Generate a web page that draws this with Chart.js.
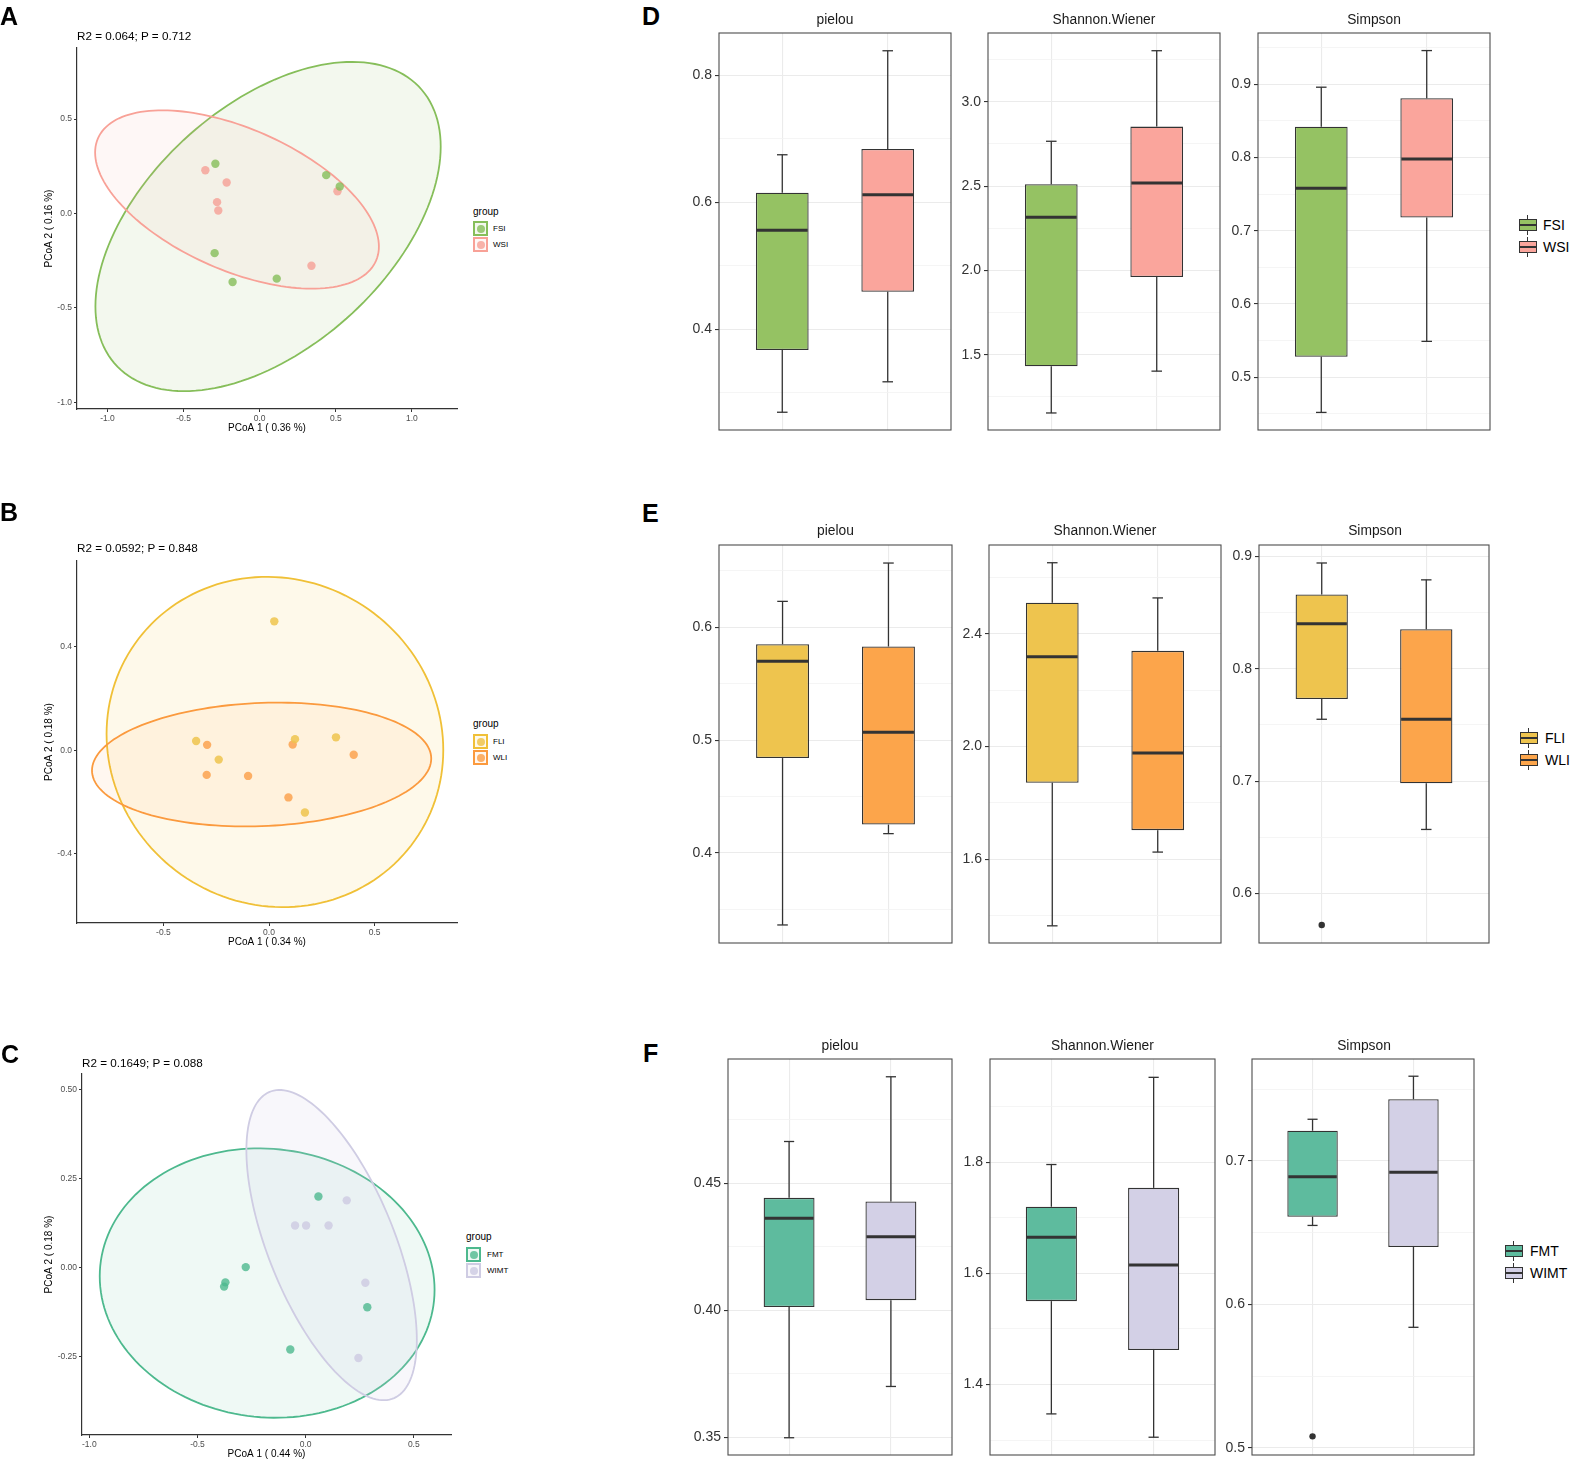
<!DOCTYPE html>
<html>
<head>
<meta charset="utf-8">
<script src="https://cdn.jsdelivr.net/npm/chart.js@4.4.0/dist/chart.umd.min.js"></script>
<style>
body { margin: 0; background: #fff; width: 1574px; height: 1463px; position: relative; overflow: hidden; font-family: "Liberation Sans", Arial, sans-serif; }
canvas { position: absolute; }
.t { position: absolute; white-space: nowrap; line-height: 1; }
.key { position: absolute; box-sizing: border-box; }
</style>
</head>
<body>
<script>
const FONT = '"Liberation Sans", Arial, sans-serif'

// ---- PCoA scatter data ----
const fsiX = [-0.291, 0.437, 0.526, -0.296, -0.178, 0.112]
const fsiY = [0.263, 0.203, 0.143, -0.210, -0.363, -0.345]
const wsiX = [-0.357, -0.217, -0.280, -0.272, 0.511, 0.340]
const wsiY = [0.229, 0.164, 0.060, 0.016, 0.118, -0.277]

const fliX = [0.025, -0.345, -0.238, 0.123, 0.317, 0.170]
const fliY = [0.498, 0.036, -0.036, 0.043, 0.050, -0.240]
const wliX = [-0.293, -0.295, -0.099, 0.112, 0.401, 0.092]
const wliY = [0.021, -0.095, -0.099, 0.022, -0.017, -0.182]

const fmtX = [0.059, -0.277, -0.371, -0.377, 0.285, -0.071]
const fmtY = [0.200, 0.001, -0.042, -0.054, -0.112, -0.231]
const wimtX = [0.190, -0.049, 0.002, 0.106, 0.276, 0.244]
const wimtY = [0.189, 0.118, 0.118, 0.118, -0.043, -0.255]

// confidence ellipses: centre x, centre y, half-axis 1 (dx, dy), half-axis 2 (dx, dy)
const fsiEllipse = [0.055, -0.069, 1.134, 0.423, 0, 0.762]
const wsiEllipse = [-0.149, 0.074, 0.932, -0.249, 0, 0.401]
const fliEllipse = [0.028, 0.032, 0.797, -0.031, 0, 0.637]
const wliEllipse = [-0.035, -0.055, 0.803, 0.023, 0, 0.238]
const fmtEllipse = [-0.178, -0.044, 0.774, -0.019, 0, 0.379]
const wimtEllipse = [0.120, 0.063, 0.394, -0.267, 0, 0.346]

// ---- alpha diversity boxes: [lower whisker, Q1, median, Q3, upper whisker] ----
const pielouD = [[0.269, 0.367, 0.556, 0.615, 0.675], [0.317, 0.459, 0.612, 0.684, 0.839]]
const shannonD = [[1.155, 1.432, 2.316, 2.511, 2.766], [1.403, 1.961, 2.518, 2.853, 3.303]]
const simpsonD = [[0.452, 0.528, 0.758, 0.842, 0.896], [0.549, 0.718, 0.798, 0.881, 0.946]]

const pielouE = [[0.336, 0.484, 0.570, 0.585, 0.623], [0.417, 0.425, 0.507, 0.583, 0.657]]
const shannonE = [[1.363, 1.871, 2.319, 2.511, 2.653], [1.625, 1.703, 1.977, 2.340, 2.528]]
const simpsonE = [[0.755, 0.773, 0.840, 0.866, 0.894], [0.657, 0.698, 0.755, 0.835, 0.879]]
const simpsonEOutliers = [0.572, null]

const pielouF = [[0.3498, 0.4013, 0.4363, 0.4443, 0.4665], [0.370, 0.404, 0.429, 0.4429, 0.492]]
const shannonF = [[1.347, 1.550, 1.665, 1.720, 1.796], [1.305, 1.462, 1.615, 1.754, 1.953]]
const simpsonF = [[0.655, 0.661, 0.689, 0.721, 0.729], [0.584, 0.640, 0.692, 0.743, 0.759]]
const simpsonFOutliers = [0.508, null]

// ---- ticks ----
const ticksAx = [-1.0, -0.5, 0.0, 0.5, 1.0], ticksAy = [-1.0, -0.5, 0.0, 0.5]
const ticksBx = [-0.5, 0.0, 0.5], ticksBy = [-0.4, 0.0, 0.4]
const ticksCx = [-1.0, -0.5, 0.0, 0.5], ticksCy = [-0.25, 0.00, 0.25, 0.50]

const pielouDTicks = [0.4, 0.6, 0.8], pielouDMinor = [0.3, 0.5, 0.7]
const shannonDTicks = [1.5, 2.0, 2.5, 3.0], shannonDMinor = [1.25, 1.75, 2.25, 2.75, 3.25]
const simpsonDTicks = [0.5, 0.6, 0.7, 0.8, 0.9], simpsonDMinor = [0.45, 0.55, 0.65, 0.75, 0.85, 0.95]
const pielouETicks = [0.4, 0.5, 0.6], pielouEMinor = [0.35, 0.45, 0.55, 0.65]
const shannonETicks = [1.6, 2.0, 2.4], shannonEMinor = [1.4, 1.8, 2.2, 2.6]
const simpsonETicks = [0.6, 0.7, 0.8, 0.9], simpsonEMinor = [0.65, 0.75, 0.85]
const pielouFTicks = [0.35, 0.40, 0.45], pielouFMinor = [0.375, 0.425, 0.475]
const shannonFTicks = [1.4, 1.6, 1.8], shannonFMinor = [1.3, 1.5, 1.7, 1.9]
const simpsonFTicks = [0.5, 0.6, 0.7], simpsonFMinor = [0.55, 0.65, 0.75]

const COLORS = {
  FSI: '#95c263', WSI: '#faa59c',
  FLI: '#eec44e', WLI: '#fca54b',
  FMT: '#5ebb9e', WIMT: '#d3d0e6'
}

function makeCanvas (left, top, width, height) {
  const c = document.createElement('canvas')
  c.width = width
  c.height = height
  c.style.left = left + 'px'
  c.style.top = top + 'px'
  c.style.width = width + 'px'
  c.style.height = height + 'px'
  document.body.appendChild(c)
  return c
}

function text (str, x, y, size, opts = {}) {
  const d = document.createElement('div')
  d.className = 't'
  d.textContent = str
  d.style.left = x + 'px'
  d.style.top = y + 'px'
  d.style.fontSize = size + 'px'
  d.style.color = opts.color || '#000'
  if (opts.bold) d.style.fontWeight = 'bold'
  d.style.transform = `translate(${opts.center ? '-50%' : '0'}, -50%)`
  document.body.appendChild(d)
}

function box (x, y, w, h, css) {
  const d = document.createElement('div')
  d.className = 'key'
  Object.assign(d.style, { left: x + 'px', top: y + 'px', width: w + 'px', height: h + 'px' }, css)
  document.body.appendChild(d)
  return d
}

const near = (list, v) => list.some(m => Math.abs(m - v) < 1e-9)

// ---------------- scatter (PCoA) ----------------
const ellipsePlugin = {
  id: 'ellipses',
  beforeDatasetsDraw (chart, args, opts) {
    const { ctx, scales: { x, y } } = chart
    opts.list.forEach(([e, stroke, fill]) => {
      ctx.save()
      ctx.beginPath()
      for (let k = 0; k <= 160; k++) {
        const t = k / 160 * 2 * Math.PI
        const px = x.getPixelForValue(e[0] + e[2] * Math.cos(t) + e[4] * Math.sin(t))
        const py = y.getPixelForValue(e[1] + e[3] * Math.cos(t) + e[5] * Math.sin(t))
        k ? ctx.lineTo(px, py) : ctx.moveTo(px, py)
      }
      ctx.closePath()
      ctx.fillStyle = fill
      ctx.fill()
      ctx.strokeStyle = stroke
      ctx.lineWidth = 1.8
      ctx.stroke()
      ctx.restore()
    })
  }
}

function pts (xs, ys) { return xs.map((x, i) => ({ x, y: ys[i] })) }

function scatterChart (area, canvasLeft, xRange, yRange, xTicks, yTicks, xDec, yDec, xTitle, yTitle, groups) {
  const [l, r, t, b] = area
  const top = t - 9, right = r + 5, bottom = b + 25
  const cv = makeCanvas(canvasLeft, top, right - canvasLeft, bottom - top)
  const tickFont = { family: FONT, size: 8.5 }
  new Chart(cv, {
    type: 'scatter',
    data: {
      datasets: groups.map(g => ({
        data: pts(g.xs, g.ys),
        backgroundColor: g.dot,
        borderWidth: 0,
        pointRadius: 4.2
      }))
    },
    options: {
      responsive: false,
      animation: false,
      layout: { padding: { top: t - top, right: right - r, left: 0, bottom: 0 } },
      plugins: {
        legend: { display: false },
        tooltip: { enabled: false },
        ellipses: { list: groups.map(g => [g.ellipse, g.stroke, g.fill]) }
      },
      scales: {
        x: {
          type: 'linear', min: xRange[0], max: xRange[1],
          afterBuildTicks: s => { s.ticks = xTicks.map(value => ({ value })) },
          afterFit: s => { s.height = bottom - b },
          ticks: { autoSkip: false, maxRotation: 0, padding: 2, color: '#4d4d4d', font: tickFont, callback: v => v.toFixed(xDec) },
          grid: { drawOnChartArea: false, tickLength: 3, tickColor: '#333', color: '#333' },
          border: { color: '#333', width: 1.2 },
          title: { display: true, text: xTitle, color: '#000', font: { family: FONT, size: 10 }, padding: { top: 0, bottom: 0 } }
        },
        y: {
          type: 'linear', min: yRange[0], max: yRange[1],
          afterBuildTicks: s => { s.ticks = yTicks.map(value => ({ value })) },
          afterFit: s => { s.width = l - canvasLeft },
          ticks: { autoSkip: false, padding: 2, color: '#4d4d4d', font: tickFont, callback: v => v.toFixed(yDec) },
          grid: { drawOnChartArea: false, tickLength: 3, tickColor: '#333', color: '#333' },
          border: { color: '#333', width: 1.2 },
          title: { display: true, text: yTitle, color: '#000', font: { family: FONT, size: 10 }, padding: { top: 13, bottom: 0 } }
        }
      }
    },
    plugins: [ellipsePlugin]
  })
}

function groupLegend (x, titleY, keyTops, size, textX, groups) {
  text('group', x, titleY, 10)
  groups.forEach((g, i) => {
    box(x, keyTops[i], size, size, { border: `2px solid ${g.stroke}`, background: g.fill })
    box(x + size / 2 - 4, keyTops[i] + size / 2 - 4, 8, 8, { borderRadius: '50%', background: g.dot })
    text(g.name, textX, keyTops[i] + size / 2, 8)
  })
}

const groupsA = [
  { name: 'FSI', xs: fsiX, ys: fsiY, ellipse: fsiEllipse, stroke: '#86be5a', fill: 'rgba(134,190,90,0.1)', dot: 'rgba(134,190,90,0.8)' },
  { name: 'WSI', xs: wsiX, ys: wsiY, ellipse: wsiEllipse, stroke: '#f8a197', fill: 'rgba(248,161,151,0.09)', dot: 'rgba(246,160,150,0.8)' }
]
const groupsB = [
  { name: 'FLI', xs: fliX, ys: fliY, ellipse: fliEllipse, stroke: '#f0c037', fill: 'rgba(241,192,51,0.1)', dot: 'rgba(238,196,78,0.85)' },
  { name: 'WLI', xs: wliX, ys: wliY, ellipse: wliEllipse, stroke: '#fb9a3e', fill: 'rgba(251,154,62,0.08)', dot: 'rgba(251,163,80,0.85)' }
]
const groupsC = [
  { name: 'FMT', xs: fmtX, ys: fmtY, ellipse: fmtEllipse, stroke: '#4db98e', fill: 'rgba(77,185,142,0.09)', dot: 'rgba(77,185,142,0.8)' },
  { name: 'WIMT', xs: wimtX, ys: wimtY, ellipse: wimtEllipse, stroke: '#cfcce3', fill: 'rgba(207,204,227,0.15)', dot: 'rgba(207,204,227,0.85)' }
]

scatterChart([77, 457, 48, 409], 30, [-1.2, 1.296], [-1.035, 0.876], ticksAx, ticksAy, 1, 1,
  'PCoA 1 ( 0.36 %)', 'PCoA 2 ( 0.16 %)', groupsA)
scatterChart([77, 457, 561, 923], 30, [-0.909, 0.890], [-0.667, 0.731], ticksBx, ticksBy, 1, 1,
  'PCoA 1 ( 0.34 %)', 'PCoA 2 ( 0.18 %)', groupsB)
scatterChart([82, 451, 1074, 1435], 30, [-1.034, 0.672], [-0.472, 0.545], ticksCx, ticksCy, 1, 2,
  'PCoA 1 ( 0.44 %)', 'PCoA 2 ( 0.18 %)', groupsC)

text('R2 = 0.064; P = 0.712', 77, 36, 11.7)
text('R2 = 0.0592; P = 0.848', 77, 548, 11.7)
text('R2 = 0.1649; P = 0.088', 82, 1063, 11.7)

groupLegend(473, 212, [221, 237], 15, 493, groupsA)
groupLegend(473, 724, [734, 750], 15, 493, groupsB)
groupLegend(466, 1237, [1247, 1263], 15, 487, groupsC)

// ---------------- box plots ----------------
const boxPlugin = {
  id: 'whiskers',
  afterDatasetsDraw (chart, args, opts) {
    const { ctx, chartArea: a, scales: { x, y } } = chart
    const seg = (x1, y1, x2, y2) => { ctx.beginPath(); ctx.moveTo(x1, y1); ctx.lineTo(x2, y2); ctx.stroke() }
    ctx.save()
    ctx.strokeStyle = '#333'
    opts.stats.forEach((s, i) => {
      const cx = x.getPixelForValue(i + 1)
      const capL = x.getPixelForValue(i + 0.95), capR = x.getPixelForValue(i + 1.05)
      const boxL = x.getPixelForValue(i + 0.75), boxR = x.getPixelForValue(i + 1.25)
      const [lo, q1, med, q3, hi] = s.map(v => y.getPixelForValue(v))
      ctx.lineWidth = 1.3
      seg(cx, q3, cx, hi)
      seg(cx, q1, cx, lo)
      seg(capL, hi, capR, hi)
      seg(capL, lo, capR, lo)
      ctx.lineWidth = 3
      seg(boxL + 1, med, boxR - 1, med)
    })
    ctx.lineWidth = 1.1
    ctx.strokeStyle = '#4d4d4d'
    ctx.strokeRect(a.left, a.top, a.width, a.height)
    ctx.restore()
  }
}

function boxChart (area, stats, fills, yRange, major, minor, dec, outliers) {
  const [l, r, t, b] = area
  const pad = 14
  const cv = makeCanvas(l - 50, t - pad, r - l + 52, b - t + 2 * pad)
  const allTicks = major.concat(minor).sort((p, q) => p - q)
  const datasets = [{
    data: stats.map((s, i) => ({ x: i + 1, y: [s[1], s[3]] })),
    backgroundColor: fills,
    borderColor: '#333',
    borderWidth: 1.3,
    borderSkipped: false,
    barPercentage: 0.5,
    categoryPercentage: 1
  }]
  if (outliers) {
    datasets.push({
      type: 'scatter',
      data: outliers.map((v, i) => ({ x: i + 1, y: v })).filter(p => p.y !== null),
      backgroundColor: '#333',
      borderWidth: 0,
      pointRadius: 3.2
    })
  }
  new Chart(cv, {
    type: 'bar',
    data: { datasets },
    options: {
      responsive: false,
      animation: false,
      layout: { padding: { top: pad, right: 2, bottom: pad, left: 0 } },
      plugins: { legend: { display: false }, tooltip: { enabled: false }, whiskers: { stats } },
      scales: {
        x: {
          type: 'linear', min: 0.4, max: 2.6, offset: false,
          afterBuildTicks: s => { s.ticks = [{ value: 1 }, { value: 2 }] },
          afterFit: s => { s.height = 0 },
          ticks: { display: false },
          grid: { color: '#ebebeb', lineWidth: 1.1, drawTicks: false, offset: false },
          border: { display: false }
        },
        y: {
          type: 'linear', min: yRange[0], max: yRange[1],
          afterBuildTicks: s => { s.ticks = allTicks.map(value => ({ value })) },
          afterFit: s => { s.width = 50 },
          ticks: {
            autoSkip: false, padding: 3, color: '#333',
            font: { family: FONT, size: 14 },
            callback: v => near(major, v) ? v.toFixed(dec) : ''
          },
          grid: {
            color: c => near(major, c.tick.value) ? '#ebebeb' : '#f2f2f2',
            lineWidth: c => near(major, c.tick.value) ? 1.1 : 0.8,
            tickColor: c => near(major, c.tick.value) ? '#333' : 'rgba(0,0,0,0)',
            tickLength: 4
          },
          border: { display: false }
        }
      }
    },
    plugins: [boxPlugin]
  })
}

function boxLegend (keyX, textX, centers, names) {
  names.forEach((n, i) => {
    const cy = centers[i]
    box(keyX + 8, cy - 10, 1.3, 20, { background: '#333' })
    box(keyX, cy - 6, 18, 12, { background: COLORS[n], border: '1.3px solid #333' })
    box(keyX, cy - 0.8, 18, 1.6, { background: '#333' })
    text(n, textX, cy, 14)
  })
}

const rowD = { t: 33, b: 430 }, rowE = { t: 545, b: 943 }, rowF = { t: 1059, b: 1455 }

boxChart([719, 951, rowD.t, rowD.b], pielouD, [COLORS.FSI, COLORS.WSI], [0.241, 0.867], pielouDTicks, pielouDMinor, 1)
boxChart([988, 1220, rowD.t, rowD.b], shannonD, [COLORS.FSI, COLORS.WSI], [1.054, 3.408], shannonDTicks, shannonDMinor, 1)
boxChart([1258, 1490, rowD.t, rowD.b], simpsonD, [COLORS.FSI, COLORS.WSI], [0.428, 0.970], simpsonDTicks, simpsonDMinor, 1)

boxChart([719, 952, rowE.t, rowE.b], pielouE, [COLORS.FLI, COLORS.WLI], [0.320, 0.673], pielouETicks, pielouEMinor, 1)
boxChart([989, 1221, rowE.t, rowE.b], shannonE, [COLORS.FLI, COLORS.WLI], [1.302, 2.716], shannonETicks, shannonEMinor, 1)
boxChart([1259, 1491, rowE.t, rowE.b], simpsonE, [COLORS.FLI, COLORS.WLI], [0.556, 0.910], simpsonETicks, simpsonEMinor, 1, simpsonEOutliers)

boxChart([728, 952, rowF.t, rowF.b], pielouF, [COLORS.FMT, COLORS.WIMT], [0.343, 0.499], pielouFTicks, pielouFMinor, 2)
boxChart([990, 1215, rowF.t, rowF.b], shannonF, [COLORS.FMT, COLORS.WIMT], [1.273, 1.986], shannonFTicks, shannonFMinor, 1)
boxChart([1252, 1476, rowF.t, rowF.b], simpsonF, [COLORS.FMT, COLORS.WIMT], [0.495, 0.771], simpsonFTicks, simpsonFMinor, 1, simpsonFOutliers)

// strip titles
const strips = ['pielou', 'Shannon.Wiener', 'Simpson']
;[[835, 1104, 1374, 20], [835.5, 1105, 1375, 531], [840, 1102.5, 1364, 1046]].forEach(row => {
  strips.forEach((s, i) => text(s, row[i], row[3], 13.8, { center: true, color: '#1a1a1a' }))
})

boxLegend(1519, 1543, [225, 247], ['FSI', 'WSI'])
boxLegend(1520, 1545, [738, 760], ['FLI', 'WLI'])
boxLegend(1505, 1530, [1251, 1273], ['FMT', 'WIMT'])

// panel letters
;[['A', 0, 15.5], ['B', 0, 512], ['C', 1, 1054], ['D', 642, 15.5], ['E', 642, 513], ['F', 643, 1053]].forEach(([s, x, y]) => {
  text(s, x, y, 25, { bold: true })
})
</script>
</body>
</html>
